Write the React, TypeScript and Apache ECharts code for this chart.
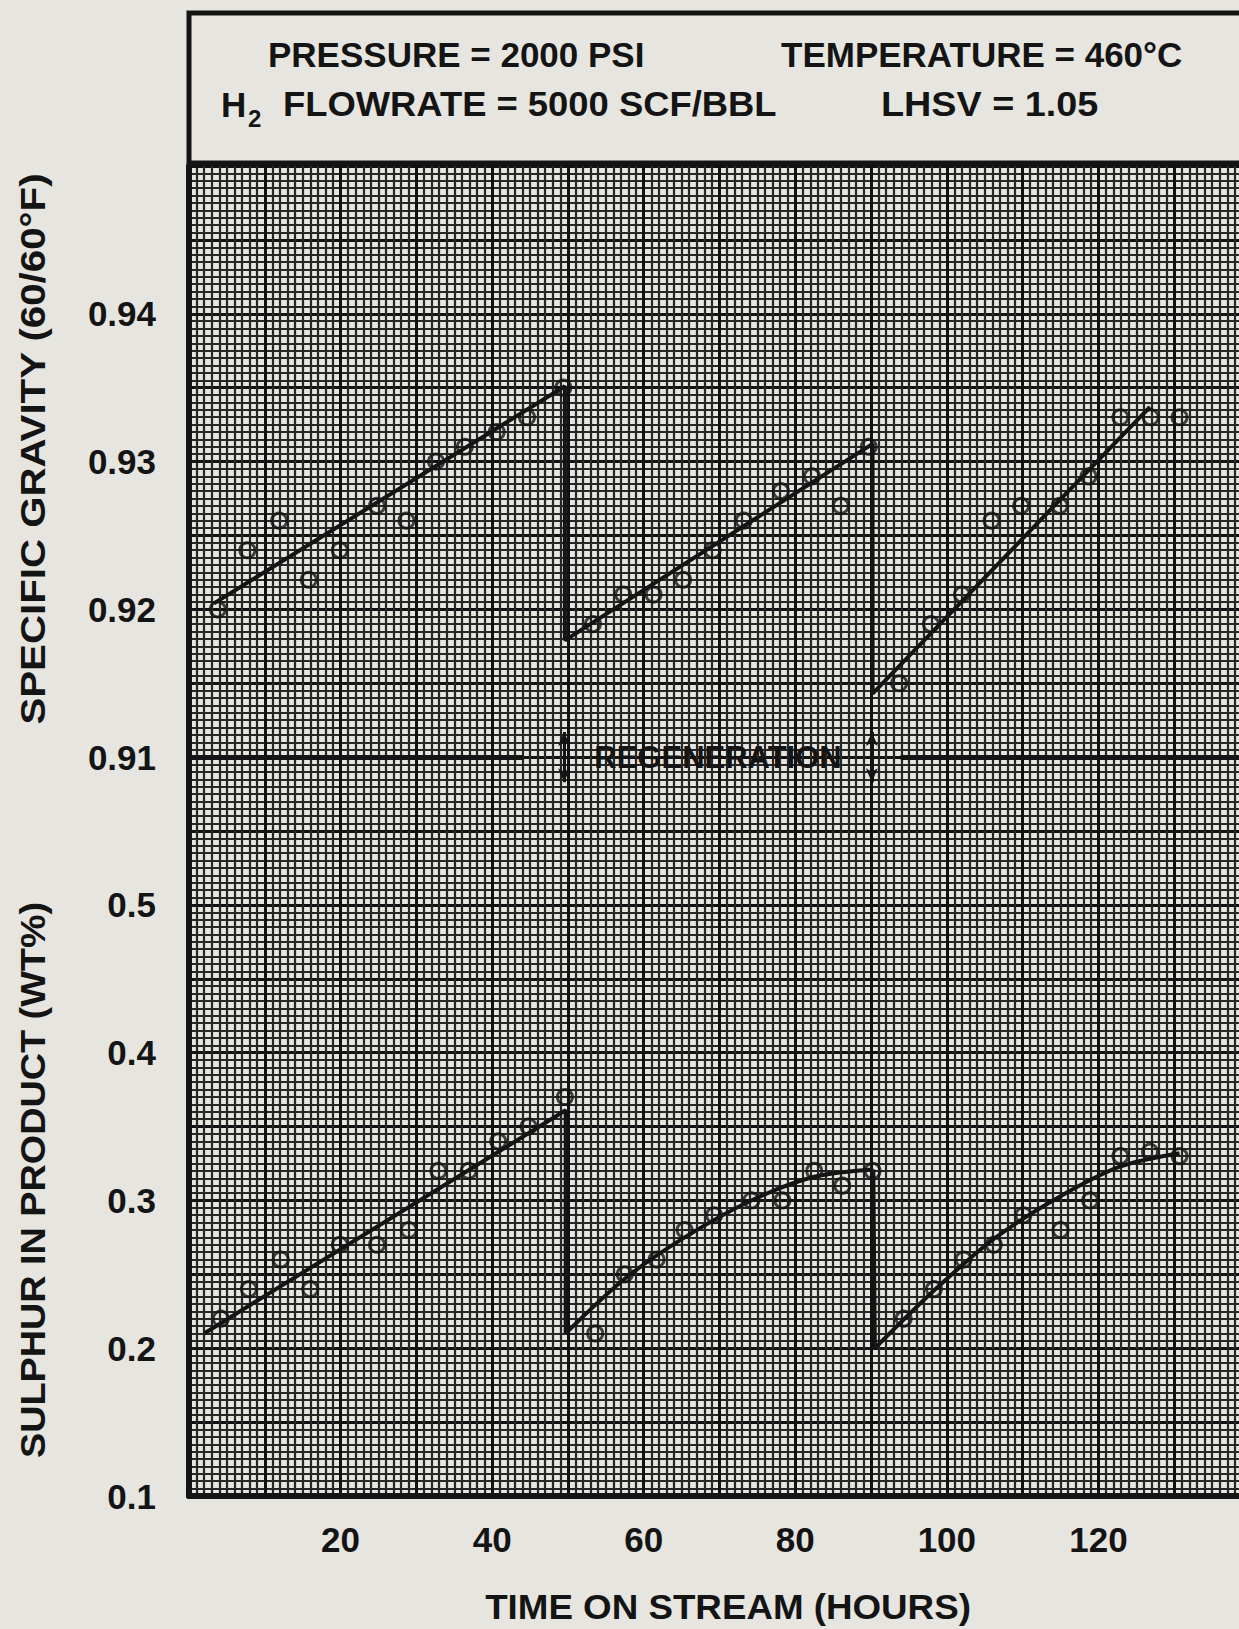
import React, { useEffect, useRef } from "react";
import * as echarts from "echarts";

// ---------- data ----------
// Specific gravity (60/60°F) observations: [hours on stream, SG]
const sgRun1: number[][] = [[3.8, 0.920], [7.7, 0.924], [11.9, 0.926], [15.8, 0.922], [19.9, 0.924], [24.8, 0.927], [28.7, 0.926], [32.6, 0.930], [36.4, 0.931], [40.6, 0.932], [44.6, 0.933], [49.4, 0.935]];
const sgRun2: number[][] = [[53.3, 0.919], [57.3, 0.921], [61.3, 0.921], [65.2, 0.922], [69.1, 0.924], [73.2, 0.926], [78.1, 0.928], [82.2, 0.929], [86.0, 0.927], [89.7, 0.931]];
const sgRun3: number[][] = [[93.7, 0.915], [97.9, 0.919], [102.0, 0.921], [105.9, 0.926], [109.8, 0.927], [114.9, 0.927], [118.7, 0.929], [122.9, 0.933], [126.9, 0.933], [130.7, 0.933]];
// SG trend line as drawn (with the drops at regeneration)
const sgTrend: number[][] = [[3.3, 0.9204], [49.6, 0.9351], [49.6, 0.9179], [90.2, 0.9312], [90.2, 0.9143], [126.8, 0.9337]];

// Sulphur in product (wt%) observations
const sRun1: number[][] = [[4.2, 0.22], [7.9, 0.24], [12.1, 0.26], [16.0, 0.24], [19.9, 0.27], [24.8, 0.27], [29.0, 0.28], [32.9, 0.32], [36.9, 0.32], [40.8, 0.34], [44.8, 0.35], [49.6, 0.37]];
const sRun2: number[][] = [[53.6, 0.21], [57.5, 0.25], [61.7, 0.26], [65.4, 0.28], [69.3, 0.29], [74.2, 0.30], [78.3, 0.30], [82.5, 0.32], [86.2, 0.31], [90.2, 0.32]];
const sRun3: number[][] = [[94.3, 0.22], [98.3, 0.24], [102.2, 0.26], [106.2, 0.27], [110.1, 0.29], [115.0, 0.28], [118.9, 0.30], [122.9, 0.33], [126.8, 0.333], [130.7, 0.33]];
// Sulphur trend curves as drawn
const sTrend1: number[][] = [[2.0, 0.210], [49.7, 0.361], [49.7, 0.210]];
const sTrend2: number[][] = [[49.7, 0.210], [57.5, 0.247], [65.4, 0.275], [74.2, 0.300], [82.5, 0.316], [90.3, 0.321]];
const sDrop2: number[][] = [[90.3, 0.321], [90.5, 0.200]];
const sTrend3: number[][] = [[90.5, 0.200], [98.3, 0.239], [106.2, 0.274], [114.7, 0.302], [122.9, 0.323], [130.7, 0.332]];

// Regeneration marker (on the SG scale)
const regenLevel = 0.91;
const regenLineLeft: number[] = [0, 44.1];
const regenLineRight: number[] = [93.9, 140];
const regenTimes: number[] = [49.5, 90.1];
const regenArrowSpan: number[] = [0.9083, 0.9117];

// Axis tick labels
const xTickLabels = [20, 40, 60, 80, 100, 120];
const sgTickLabels = ["0.91", "0.92", "0.93", "0.94"];
const sTickLabels = ["0.1", "0.2", "0.3", "0.4", "0.5"];

// ---------- styling ----------
const PAPER = "#e7e5df";
const INK = "#141414";
const FONT = "'Liberation Sans', Arial, sans-serif";

const circleStyle = { color: "rgba(0,0,0,0)", borderColor: INK, borderWidth: 3 };
const trendStyle = { color: INK, width: 4 };

function buildOption() {
  const labelStyle = { fontFamily: FONT, fontSize: 35, fontWeight: "bold" as const, color: INK };
  const regenLines: any[] = [
    [{ coord: [regenLineLeft[0], regenLevel] }, { coord: [regenLineLeft[1], regenLevel] }],
    [{ coord: [regenLineRight[0], regenLevel] }, { coord: [regenLineRight[1], regenLevel] }],
    ...regenTimes.map((t) => [
      { coord: [t, regenArrowSpan[0]], symbol: "arrow", symbolSize: [9, 14], lineStyle: { width: 3, type: "solid", color: INK } },
      { coord: [t, regenArrowSpan[1]], symbol: "arrow", symbolSize: [9, 14] },
    ]),
  ];
  const text = (t: string, x: number, y: number, size: number, extra: any = {}) => ({
    type: "text",
    x,
    y,
    z: 20,
    ...extra,
    style: {
      text: t,
      fontFamily: FONT,
      fontSize: size,
      fontWeight: "bold",
      fill: INK,
      align: extra.align || "left",
      textAlign: extra.align || "left",
      verticalAlign: "middle",
      textVerticalAlign: "middle",
    },
  });
  return {
    animation: false,
    backgroundColor: PAPER,
    grid: { left: 189, right: 0, top: 166, bottom: 133, containLabel: false },
    xAxis: [
      {
        type: "value", min: 0, max: 140, interval: 20, position: "bottom", z: 5,
        axisLine: { show: true, onZero: false, lineStyle: { color: INK, width: 6 } },
        axisTick: { show: true, inside: true, length: 10, lineStyle: { color: INK, width: 3 } },
        axisLabel: {
          ...labelStyle, margin: 26,
          formatter: (v: number) => (xTickLabels.indexOf(Math.round(v)) >= 0 ? String(Math.round(v)) : ""),
        },
        splitLine: { show: false },
      },
      {
        type: "value", min: 0, max: 140, interval: 10, position: "bottom", z: 0,
        axisLine: { show: false }, axisTick: { show: false }, axisLabel: { show: false },
        splitLine: { show: true, lineStyle: { color: "#111", width: 3 } },
        minorTick: { show: false, splitNumber: 10 },
        minorSplitLine: { show: true, lineStyle: { color: "#262626", width: 2.2 } },
      },
    ],
    yAxis: [
      {
        type: "value", min: 0.86, max: 0.95, interval: 0.01, position: "left", z: 5,
        axisLine: { show: true, onZero: false, lineStyle: { color: INK, width: 6 } },
        axisTick: { show: true, inside: true, length: 10, lineStyle: { color: INK, width: 3 } },
        axisLabel: {
          ...labelStyle, margin: 33,
          formatter: (v: number) => (sgTickLabels.indexOf(v.toFixed(2)) >= 0 ? v.toFixed(2) : ""),
        },
        splitLine: { show: false },
      },
      {
        type: "value", min: 0.1, max: 1.0, interval: 0.1, position: "left", z: 5,
        axisLine: { show: false }, axisTick: { show: false },
        axisLabel: {
          ...labelStyle, margin: 33,
          formatter: (v: number) => (sTickLabels.indexOf(v.toFixed(1)) >= 0 ? v.toFixed(1) : ""),
        },
        splitLine: { show: false },
      },
      {
        type: "value", min: 0.1, max: 1.0, interval: 0.05, position: "left", z: 0,
        axisLine: { show: false }, axisTick: { show: false }, axisLabel: { show: false },
        splitLine: { show: true, lineStyle: { color: "#111", width: 3 } },
        minorTick: { show: false, splitNumber: 10 },
        minorSplitLine: { show: true, lineStyle: { color: "#262626", width: 2.2 } },
      },
    ],
    series: [
      {
        type: "line", name: "SG trend", xAxisIndex: 0, yAxisIndex: 0, data: sgTrend,
        showSymbol: false, silent: true, lineStyle: trendStyle,
        markLine: {
          silent: true, symbol: "none", label: { show: false },
          lineStyle: { type: "solid", color: INK, width: 5 },
          data: regenLines,
        },
      },
      {
        type: "scatter", name: "Specific gravity", xAxisIndex: 0, yAxisIndex: 0,
        data: [...sgRun1, ...sgRun2, ...sgRun3], symbol: "circle", symbolSize: 15, itemStyle: circleStyle,
      },
      { type: "line", name: "S trend 1", xAxisIndex: 0, yAxisIndex: 1, data: sTrend1, showSymbol: false, silent: true, lineStyle: trendStyle },
      { type: "line", name: "S trend 2", xAxisIndex: 0, yAxisIndex: 1, data: sTrend2, smooth: 0.3, showSymbol: false, silent: true, lineStyle: trendStyle },
      { type: "line", name: "S drop 2", xAxisIndex: 0, yAxisIndex: 1, data: sDrop2, showSymbol: false, silent: true, lineStyle: trendStyle },
      { type: "line", name: "S trend 3", xAxisIndex: 0, yAxisIndex: 1, data: sTrend3, smooth: 0.3, showSymbol: false, silent: true, lineStyle: trendStyle },
      {
        type: "scatter", name: "Sulphur", xAxisIndex: 0, yAxisIndex: 1,
        data: [...sRun1, ...sRun2, ...sRun3], symbol: "circle", symbolSize: 15, itemStyle: circleStyle,
      },
    ],
    graphic: [
      { type: "rect", z: 19, shape: { x: 189, y: 13, width: 1080, height: 150 }, style: { fill: PAPER, stroke: INK, lineWidth: 5 } },
      text("PRESSURE = 2000 PSI", 268, 54, 35),
      text("TEMPERATURE = 460°C", 781, 54, 35),
      text("H", 221, 104, 35),
      text("2", 248, 118, 24),
      text("FLOWRATE = 5000 SCF/BBL", 283, 104, 35, { scaleX: 1.04 }),
      text("LHSV = 1.05", 881, 104, 35, { scaleX: 1.08 }),
      text("REGENERATION", 718, 757, 31, { align: "center" }),
      text("SPECIFIC GRAVITY (60/60°F)", 33, 449, 35, { align: "center", rotation: Math.PI / 2, scaleX: 1.15 }),
      text("SULPHUR IN PRODUCT (WT%)", 33, 1180, 35, { align: "center", rotation: Math.PI / 2, scaleX: 1.08 }),
      text("TIME ON STREAM (HOURS)", 728, 1607, 35, { align: "center", scaleX: 1.05 }),
    ],
  };
}

export default function App() {
  const ref = useRef<HTMLDivElement>(null);
  useEffect(() => {
    if (!ref.current) return;
    const chart = echarts.init(ref.current, null, { renderer: "svg" });
    chart.setOption(buildOption() as any);
    return () => chart.dispose();
  }, []);
  return (
    <div style={{ position: "absolute", left: 0, top: 0, width: 1239, height: 1629, overflow: "hidden", background: PAPER }}>
      <div ref={ref} style={{ width: 1253, height: 1629 }} />
    </div>
  );
}
